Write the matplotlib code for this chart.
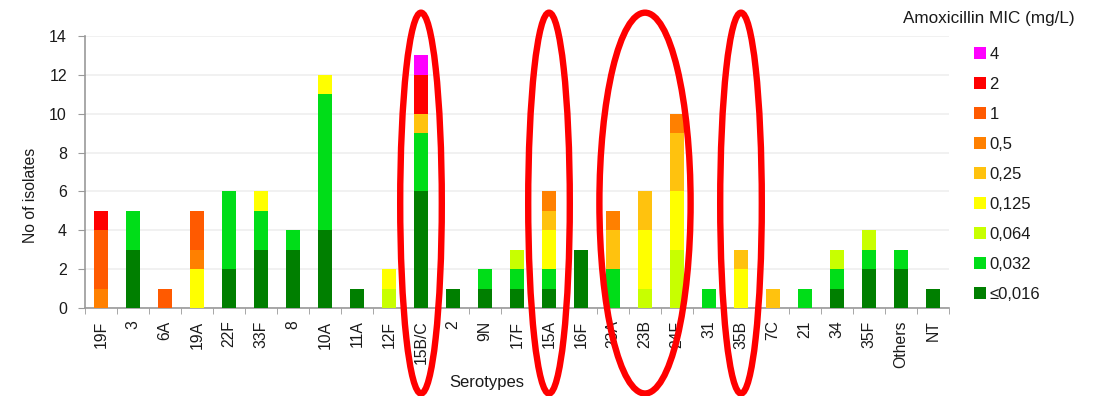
import matplotlib
matplotlib.use("Agg")
import matplotlib.pyplot as plt
from matplotlib.patches import Patch, Ellipse
import numpy as np

plt.rcParams["font.family"] = ["Liberation Sans", "DejaVu Sans"]

serotypes = ["19F", "3", "6A", "19A", "22F", "33F", "8", "10A", "11A", "12F",
             "15B/C", "2", "9N", "17F", "15A", "16F", "23A", "23B", "24F", "31",
             "35B", "7C", "21", "34", "35F", "Others", "NT"]

mic_levels = ["≤0,016", "0,032", "0,064", "0,125", "0,25", "0,5", "1", "2", "4"]
mic_colors = ["#007f00", "#00dd18", "#c8ff00", "#ffff00", "#ffc20e",
              "#ff8000", "#ff5a00", "#ff0000", "#ff00ff"]

# isolates per serotype for each MIC level (same order as serotypes)
mic_le_0016 = [0, 3, 0, 0, 2, 3, 3, 4, 1, 0, 6, 1, 1, 1, 1, 3, 0, 0, 0, 0, 0, 0, 0, 1, 2, 2, 1]
mic_0032 = [0, 2, 0, 0, 4, 2, 1, 7, 0, 0, 3, 0, 1, 1, 1, 0, 2, 0, 0, 1, 0, 0, 1, 1, 1, 1, 0]
mic_0064 = [0, 0, 0, 0, 0, 0, 0, 0, 0, 1, 0, 0, 0, 1, 0, 0, 0, 1, 3, 0, 0, 0, 0, 1, 1, 0, 0]
mic_0125 = [0, 0, 0, 2, 0, 1, 0, 1, 0, 1, 0, 0, 0, 0, 2, 0, 0, 3, 3, 0, 2, 0, 0, 0, 0, 0, 0]
mic_025 = [0, 0, 0, 0, 0, 0, 0, 0, 0, 0, 1, 0, 0, 0, 1, 0, 2, 2, 3, 0, 1, 1, 0, 0, 0, 0, 0]
mic_05 = [1, 0, 0, 1, 0, 0, 0, 0, 0, 0, 0, 0, 0, 0, 1, 0, 1, 0, 1, 0, 0, 0, 0, 0, 0, 0, 0]
mic_1 = [3, 0, 1, 2, 0, 0, 0, 0, 0, 0, 0, 0, 0, 0, 0, 0, 0, 0, 0, 0, 0, 0, 0, 0, 0, 0, 0]
mic_2 = [1, 0, 0, 0, 0, 0, 0, 0, 0, 0, 2, 0, 0, 0, 0, 0, 0, 0, 0, 0, 0, 0, 0, 0, 0, 0, 0]
mic_4 = [0, 0, 0, 0, 0, 0, 0, 0, 0, 0, 1, 0, 0, 0, 0, 0, 0, 0, 0, 0, 0, 0, 0, 0, 0, 0, 0]

series = [mic_le_0016, mic_0032, mic_0064, mic_0125, mic_025, mic_05, mic_1, mic_2, mic_4]

# highlighted serotypes: (first, last) pair of serotype names per ring
highlights = [("15B/C", "15B/C"), ("15A", "15A"), ("23B", "24F"), ("35B", "35B")]

fig = plt.figure(figsize=(10.94, 3.96), dpi=100)
ax = fig.add_axes([85 / 1094, 1 - 308 / 396, 864 / 1094, 272 / 396])

x = np.arange(len(serotypes))
bottom = np.zeros(len(serotypes))
for vals, col in zip(series, mic_colors):
    v = np.array(vals, dtype=float)
    ax.bar(x, v, width=0.44, bottom=bottom, color=col, edgecolor="none", zorder=3)
    bottom += v

ax.set_xlim(-0.5, len(serotypes) - 0.5)
ax.set_ylim(0, 14)
ax.set_yticks(np.arange(0, 15, 2))
ax.yaxis.grid(True, color="#efefef", lw=1.2, zorder=0)
ax.set_axisbelow(True)

ax.set_xticks(x)
ax.set_xticklabels(serotypes, rotation=90, fontsize=11.3, color="#1a1a1a")
ax.set_xticks(np.arange(-0.5, len(serotypes), 1), minor=True)
ax.tick_params(axis="x", which="major", length=0, pad=9)
ax.tick_params(axis="x", which="minor", length=4, color="#999999", direction="out")
ax.tick_params(axis="y", length=5, color="#999999", labelsize=11.5,
               labelcolor="#1a1a1a", pad=8)

for side in ("top", "right"):
    ax.spines[side].set_visible(False)
for side in ("left", "bottom"):
    ax.spines[side].set_color("#999999")
    ax.spines[side].set_linewidth(1.2)

ax.set_ylabel("No of isolates", fontsize=11.3, color="#1a1a1a")
ax.yaxis.set_label_coords(-0.054, 0.415)
ax.set_xlabel("Serotypes", fontsize=12, color="#1a1a1a")
ax.xaxis.set_label_coords((487 - 85) / 864, -0.245)

# red rings around the highlighted serotypes
for first, last in highlights:
    i0, i1 = serotypes.index(first), serotypes.index(last)
    w = 1.3 if i0 == i1 else 2.85
    ring = Ellipse((i0, 5.4), w, 19.6, fill=False, ec="#ff0000", lw=4.6,
                   clip_on=False, zorder=5)
    ax.add_patch(ring)

# legend (highest MIC on top)
handles = [Patch(facecolor=c, edgecolor="none") for c in mic_colors][::-1]
labels = mic_levels[::-1]
fig.text(903 / 1094, 1 - 19 / 396, "Amoxicillin MIC (mg/L)", fontsize=12.3,
         color="#1a1a1a", va="center", ha="left")
fig.legend(handles, labels, loc="upper left", bbox_to_anchor=(974 / 1094, 1 - 47 / 396),
           frameon=False, fontsize=12, handlelength=0.72, handleheight=0.72,
           handletextpad=0.2, labelspacing=0.9, borderpad=0, borderaxespad=0,
           labelcolor="#1a1a1a")

fig.savefig("out.png", dpi=100)
